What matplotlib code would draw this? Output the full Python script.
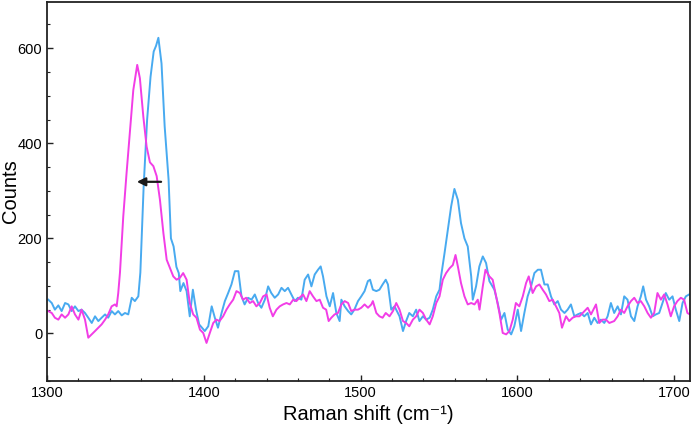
import numpy as np
import matplotlib.pyplot as plt
from matplotlib.ticker import MultipleLocator

plt.rcParams['font.family'] = ['Liberation Sans', 'DejaVu Sans']

# Blue spectrum (before shift)
blue_x = [1300.8, 1303, 1305, 1307.2, 1309.3, 1311.5, 1313.6, 1315.7, 1317.8, 1320, 1322, 1324.2,
          1326.3, 1328.5, 1330.6, 1332.7, 1334.8, 1337, 1339, 1341.2, 1343.3, 1345.4, 1347.6, 1349.7,
          1351.8, 1354, 1356, 1358.2, 1359.5, 1361.6, 1363.8, 1366, 1368, 1369.5, 1371, 1373, 1375,
          1377.5, 1379, 1380.7, 1382.5, 1384, 1385, 1387, 1389, 1391, 1393, 1395, 1397, 1400.6,
          1402.8, 1405, 1407, 1409, 1411.3, 1413.4, 1415.5, 1417.6, 1419.8, 1422, 1424, 1426, 1428.2,
          1430.4, 1432.5, 1434.6, 1436.7, 1438.9, 1441, 1443, 1445.2, 1447.4, 1449.5, 1451.6, 1453.7,
          1455.8, 1458, 1460, 1462.2, 1464.3, 1466.5, 1468.6, 1470.7, 1472.8, 1474.5, 1476, 1478.2,
          1480.3, 1482.4, 1484.5, 1486.6, 1487.7, 1489.8, 1492, 1494, 1496, 1498.3, 1500.4, 1502.5,
          1504.6, 1506, 1507.8, 1510, 1512, 1514, 1516, 1517.4, 1519.5, 1521.6, 1524.8, 1527, 1529,
          1531, 1533.3, 1535.4, 1537.5, 1539.7, 1541.8, 1544, 1546, 1548.2, 1550.3, 1551.3, 1553.5,
          1555.6, 1557.7, 1559.8, 1562, 1564, 1566.2, 1568.3, 1570.5, 1571.5, 1573.6, 1575.7, 1577.9,
          1580, 1582.1, 1585.3, 1587.4, 1589.6, 1591.7, 1593.8, 1596, 1598, 1600.2, 1602.3, 1604.4,
          1606.5, 1608.7, 1610.8, 1613, 1615, 1617.2, 1619.3, 1621.4, 1623.5, 1625.7, 1627.8, 1630,
          1632, 1634.1, 1636.3, 1638.4, 1640.5, 1642.6, 1644.8, 1646.9, 1649, 1651.1, 1653.2, 1655.4,
          1657.5, 1659.6, 1661.7, 1663.9, 1666, 1668.1, 1670.2, 1672.4, 1674.5, 1676.6, 1678.7,
          1680.2, 1682, 1684, 1686.2, 1688.3, 1690.4, 1692.5, 1694.6, 1696.8, 1698.9, 1701, 1703.2,
          1705.3, 1707.4, 1709.5]
blue_y = [71, 64, 50, 59, 47, 64, 61, 47, 57, 47, 50, 43,
          33, 22, 36, 26, 33, 40, 33, 47, 40, 47, 38, 43,
          40, 75, 68, 78, 128, 309, 449, 540, 593, 605, 622, 568, 436,
          324, 200, 183, 140, 127, 89, 106, 89, 36, 92, 50, 19, 5,
          15, 57, 33, 12, 43, 68, 85, 103, 131, 131, 78, 61, 75,
          71, 82, 64, 54, 71, 99, 85, 75, 82, 96, 89, 96,
          82, 68, 75, 71, 113, 124, 99, 124, 134, 141, 120, 78,
          57, 85, 43, 26, 71, 57, 47, 40, 50, 68, 78, 89,
          110, 113, 92, 89, 92, 103, 113, 103, 50, 57, 36, 5, 26,
          43, 36, 50, 26, 36, 29, 33, 50, 78, 92, 120, 169,
          218, 267, 304, 281, 232, 200, 183, 120, 71, 99, 141, 162,
          148, 110, 92, 64, 29, 43, 8, -2, 15, 50, 5, 43,
          78, 99, 127, 134, 134, 103, 103, 78, 61, 68, 50, 43,
          50, 61, 36, 40, 43, 36, 43, 19, 33, 22, 29, 22,
          36, 64, 43, 57, 40, 78, 71, 36, 26, 57, 78,
          99, 71, 57, 36, 40, 43, 64, 85, 71, 78, 50, 26,
          64, 78, 82]

# Magenta spectrum (after shift)
pink_x = [1300.8, 1303, 1305, 1307.2, 1309.3, 1311.5, 1313.6, 1315.7, 1317.8, 1320, 1322, 1324.2,
          1326.3, 1328.5, 1330.6, 1332.7, 1334.8, 1337, 1339, 1341.2, 1343.3, 1344.4, 1345.4, 1346.5,
          1348.6, 1350.7, 1352.9, 1355, 1357.5, 1359.2, 1361.4, 1363.5, 1365.6, 1367.8, 1369.9, 1372,
          1374.2, 1376.3, 1378, 1380.5, 1382.6, 1384.7, 1386.8, 1389, 1391, 1393.2, 1395.3, 1397.5,
          1399.6, 1401.7, 1403.8, 1406, 1408, 1410, 1412.3, 1414.4, 1416.5, 1418.7, 1420.8, 1423, 1425,
          1427, 1429.3, 1431.4, 1433.5, 1435.7, 1437.8, 1440, 1442, 1444, 1446.3, 1448.4, 1450.5,
          1452.7, 1454.8, 1457, 1459, 1461, 1463.3, 1465.4, 1467.5, 1469.6, 1471.8, 1473.9, 1476, 1478,
          1479.6, 1481.3, 1483.4, 1485.5, 1487.7, 1489.8, 1492, 1494, 1496, 1498.3, 1500.4, 1502.5,
          1504.7, 1506.8, 1507.8, 1510, 1512, 1514, 1516, 1518.4, 1520.6, 1522.7, 1524.8, 1527, 1529,
          1531, 1533.3, 1535.4, 1537.5, 1539.7, 1541.8, 1544, 1546, 1548.2, 1550.3, 1552.4, 1554.5,
          1556.7, 1558.8, 1560.5, 1562, 1564, 1566.2, 1568.3, 1570.5, 1572.6, 1574.7, 1575.8, 1577.9,
          1579.6, 1582.1, 1584.2, 1586.4, 1588.5, 1590.6, 1592.8, 1594.9, 1597, 1599, 1601.2, 1603.4,
          1605.5, 1607.2, 1609.7, 1611.9, 1614, 1616.1, 1618.2, 1620.3, 1622.5, 1624.6, 1626.7, 1628.4,
          1631, 1633, 1635.2, 1637.3, 1639.5, 1641.6, 1644.8, 1646.9, 1650.1, 1652.2, 1654.3, 1656.4,
          1658.6, 1661.7, 1663.9, 1666, 1668.1, 1670.2, 1672.4, 1674.5, 1676.6, 1678.7, 1680.9, 1683,
          1685.1, 1687.2, 1689.3, 1691.5, 1693.6, 1695.7, 1697.8, 1699.9, 1702, 1704.2, 1706.3, 1708.4,
          1710]
pink_y = [47, 43, 33, 29, 40, 33, 40, 57, 40, 29, 50, 29,
          -9, -2, 5, 12, 19, 29, 40, 57, 61, 57, 85, 128,
          246, 337, 428, 512, 565, 537, 456, 393, 360, 352, 331, 281,
          211, 155, 141, 120, 113, 117, 127, 113, 64, 40, 33, 8,
          1, -20, 1, 22, 29, 26, 36, 50, 61, 71, 89, 85, 71,
          75, 64, 68, 57, 64, 78, 82, 54, 36, 50, 57, 61,
          64, 61, 71, 68, 75, 82, 68, 89, 78, 68, 71, 54, 50,
          26, 33, 40, 43, 61, 68, 64, 47, 50, 50, 54, 61,
          54, 61, 68, 43, 36, 33, 43, 36, 47, 64, 50, 26, 22,
          15, 29, 36, 50, 43, 29, 19, 36, 64, 78, 113, 127,
          137, 144, 165, 141, 106, 78, 61, 64, 61, 71, 50, 99,
          134, 120, 113, 78, 43, 1, -2, 5, 29, 64, 57, 78,
          106, 120, 85, 99, 103, 92, 82, 68, 71, 57, 43, 12,
          36, 26, 33, 36, 36, 43, 54, 40, 61, 22, 29, 29,
          22, 26, 36, 50, 43, 57, 68, 75, 64, 68, 57, 43,
          33, 43, 85, 71, 82, 61, 36, 57, 68, 75, 71, 43,
          40]

fig = plt.figure(figsize=(6.92, 4.29), dpi=100)
ax = fig.add_axes([0.068, 0.112, 0.929, 0.883])

ax.plot(blue_x, blue_y, color='#48aaf0', lw=1.4)
ax.plot(pink_x, pink_y, color='#f23de6', lw=1.4)

# shift arrow
ax.annotate('', xy=(1355.5, 319), xytext=(1374.5, 319),
            arrowprops=dict(arrowstyle='-|>,head_length=0.5,head_width=0.25', color='#1a1a1a', lw=1.6))

ax.set_xlim(1300, 1710)
ax.set_ylim(-100, 697)
ax.set_xticks([1300, 1400, 1500, 1600, 1700])
ax.set_yticks([0, 200, 400, 600])
ax.xaxis.set_minor_locator(MultipleLocator(20))
ax.yaxis.set_minor_locator(MultipleLocator(50))
ax.tick_params(which='both', direction='in', top=False, right=False, labelsize=10.5, color='#222222')
ax.tick_params(which='major', length=4.5, width=1)
ax.tick_params(which='minor', length=2.5, width=0.8)
for s in ax.spines.values():
    s.set_linewidth(1.3)
    s.set_color('#222222')

ax.set_xlabel('Raman shift (cm\u207b\u00b9)', fontsize=14.5, labelpad=4)
ax.set_ylabel('Counts', fontsize=14.5)
ax.yaxis.set_label_coords(-0.042, 0.5)

plt.savefig('out.png', dpi=100)
